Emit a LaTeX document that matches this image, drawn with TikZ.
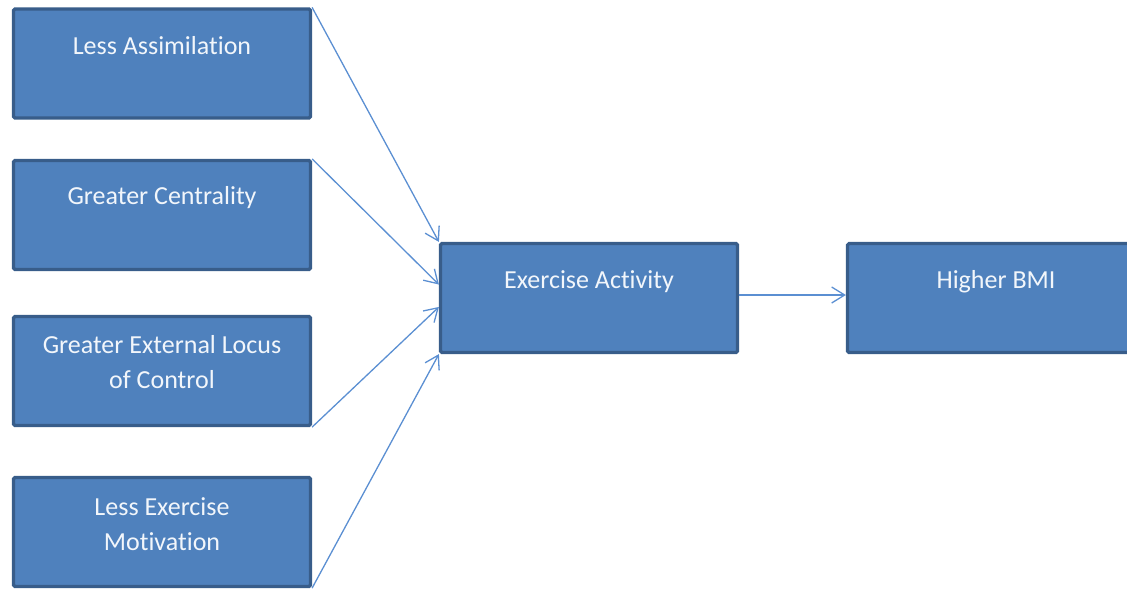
\documentclass[tikz,border=0pt]{standalone}
\usepackage{fontspec}
\setmainfont[Ligatures=NoCommon]{Carlito}
\usetikzlibrary{arrows.meta,calc}
\definecolor{boxfill}{HTML}{4F81BD}
\definecolor{boxline}{HTML}{385D8A}
\definecolor{arrowcol}{HTML}{5B8FD2}
\definecolor{txtcol}{HTML}{F2F6FB}
\begin{document}
\begin{tikzpicture}[x=1pt,y=-1pt,
  box/.style={draw=boxline, fill=boxfill, line width=3.2pt, rounded corners=1.5pt,
    minimum width=297pt, minimum height=109pt, inner sep=0pt},
  lbl/.style={text=txtcol, font=\fontsize{26}{35.5}\selectfont, align=center, inner sep=0pt},
  conn/.style={draw=arrowcol, line width=1.3pt, -{Straight Barb[length=13pt,width=16pt,line width=1.3pt]}}]
\useasboundingbox (0,0) rectangle (1127,589);
\clip (0,0) rectangle (1127,589);
\node[box] (b1) at (162,63.5) {};
\node[box] (b2) at (162,215) {};
\node[box] (b3) at (162,371) {};
\node[box] (b4) at (162,532) {};
\node[box] (ex) at (589,298) {};
\node[box] (hi) at (996,298) {};
\node[lbl] (t1) at (162,46) {Less Assimilation};
\node[lbl] (t2) at (162,198) {Greater Centrality};
\node[lbl] (t3) at (162,362) {Greater External Locus\\of Control};
\node[lbl] (t4) at (162,524) {Less Exercise\\Motivation};
\node[lbl] (t5) at (589,282) {Exercise Activity};
\node[lbl] (t6) at (996,282) {Higher BMI};
\draw[conn] (b1.north east) -- (ex.north west);
\draw[conn] (b2.north east) -- ($(ex.north west)!0.38!(ex.south west)$);
\draw[conn] (b3.south east) -- ($(ex.north west)!0.58!(ex.south west)$);
\draw[conn] (b4.south east) -- (ex.south west);
\draw[conn] ([yshift=3pt]ex.east) -- ([yshift=3pt]hi.west);
\end{tikzpicture}
\end{document}
